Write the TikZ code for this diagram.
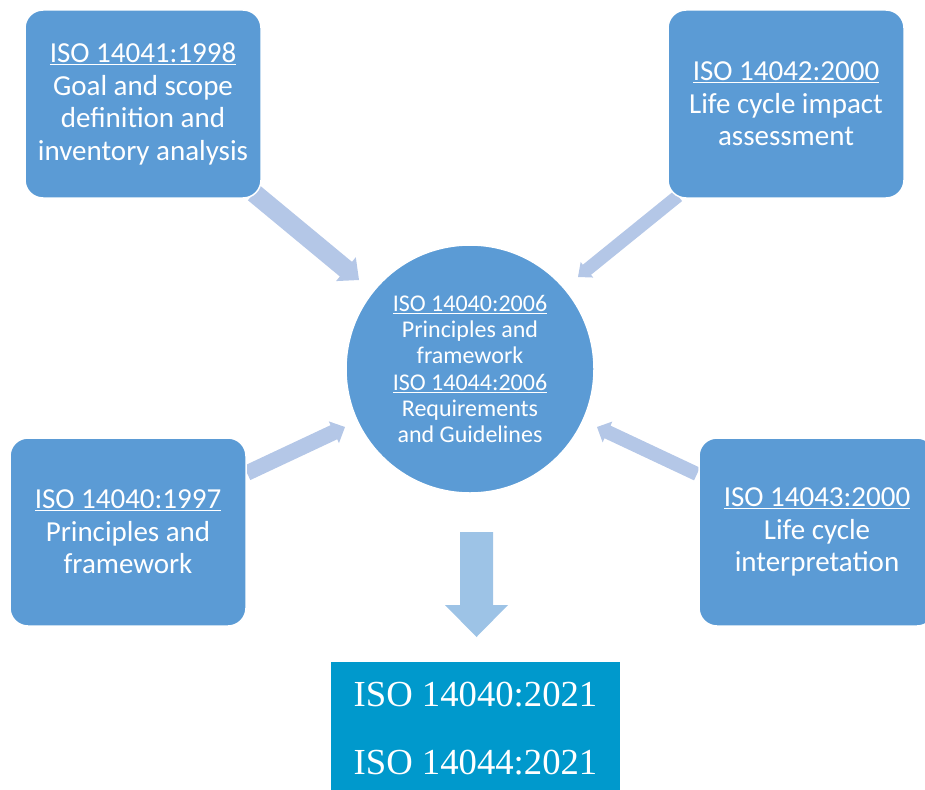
\documentclass[tikz,border=0pt]{standalone}
\usepackage{fontspec}
\setmainfont{Carlito}
\newfontfamily\serifbox{Liberation Serif}
\usetikzlibrary{calc}
\definecolor{boxblue}{HTML}{5B9BD5}
\definecolor{arrowlight}{HTML}{B4C7E7}
\definecolor{arrowdown}{HTML}{9DC3E6}
\definecolor{bottomblue}{HTML}{0099CC}
% tail, tip, half shaft width, half head width, head length, style
\newcommand{\blockarrow}[6]{%
  \coordinate (bbase) at ($(#2)!#5!(#1)$);
  \fill[#6] ($(#1)!#3!90:(#2)$) -- ($(bbase)!#3!90:(#2)$) -- ($(bbase)!#4!90:(#2)$) -- (#2)
    -- ($(bbase)!#4!-90:(#2)$) -- ($(bbase)!#3!-90:(#2)$) -- ($(#1)!#3!-90:(#2)$) -- cycle;
}
\begin{document}
\begin{tikzpicture}[x=1pt,y=-1pt,
  isobox/.style={fill=boxblue, draw=white, line width=1.5pt, rounded corners=18pt,
    minimum width=236pt, minimum height=188pt, inner sep=0pt, align=center,
    text=white, font=\fontsize{29}{32.5}\selectfont},
  centre/.style={circle, fill=boxblue, draw=white, line width=1.5pt, minimum size=248pt,
    inner sep=0pt, align=center, text=white, font=\fontsize{24}{26.2}\selectfont},
  resultbox/.style={fill=bottomblue, minimum width=289pt, minimum height=133.4pt,
    inner sep=0pt, align=center, text=white, font=\serifbox\fontsize{36.7}{68.3}\selectfont},
  lightarrow/.style={fill=arrowlight},
  downarrow/.style={fill=arrowdown}]
\useasboundingbox (0,0) rectangle (925,789);
% connector end points
\coordinate (a1s) at (254,193);  \coordinate (a1e) at (359,280);
\coordinate (a2s) at (678,196);  \coordinate (a2e) at (578,277);
\coordinate (a3s) at (247,473);  \coordinate (a3e) at (345,427);
\coordinate (a4s) at (697,474);  \coordinate (a4e) at (597,427);
\coordinate (a5s) at (476.5,532); \coordinate (a5e) at (476.5,637);
\blockarrow{a1s}{a1e}{9.5pt}{15.5pt}{17pt}{lightarrow}
\blockarrow{a2s}{a2e}{6.5pt}{10pt}{11.5pt}{lightarrow}
\blockarrow{a3s}{a3e}{7.8pt}{12pt}{12.3pt}{lightarrow}
\blockarrow{a4s}{a4e}{7pt}{11.5pt}{11.6pt}{lightarrow}
\blockarrow{a5s}{a5e}{16.5pt}{31.5pt}{32pt}{downarrow}
% boxes
\node[isobox] (tl) at (143,104) {\underline{ISO 14041:1998}\\Goal and scope\\definition and\\inventory analysis};
\node[isobox] (tr) at (786,104) {\underline{ISO 14042:2000}\\Life cycle impact\\assessment};
\node[isobox] (lb) at (128,532) {\underline{ISO 14040:1997}\\Principles and\\framework};
\node[isobox] (rb) at (817,532) {\underline{ISO 14043:2000}\\Life cycle\\interpretation};
\node[centre] (c) at (470,369) {\underline{ISO 14040:2006}\\Principles and\\framework\\\underline{ISO 14044:2006}\\Requirements\\and Guidelines};
\node[resultbox] (bot) at (475.5,728.7) {ISO 14040:2021\\ISO 14044:2021};
\end{tikzpicture}
\end{document}
